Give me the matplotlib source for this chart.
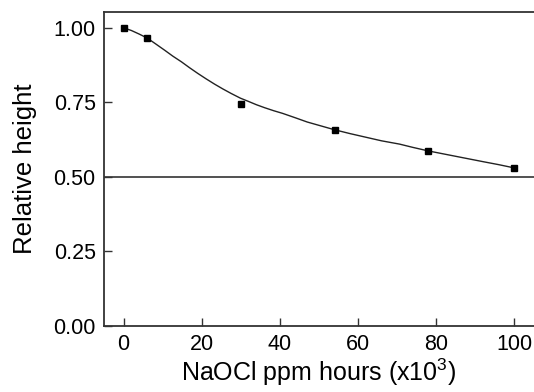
import matplotlib
matplotlib.use("Agg")
import matplotlib.pyplot as plt

plt.rcParams["font.family"] = ["Liberation Sans", "DejaVu Sans"]
plt.rcParams["mathtext.fontset"] = "custom"
plt.rcParams["mathtext.rm"] = "Liberation Sans"

# measured points
dose = [0, 6, 30, 54, 78, 100]
rel_height = [1.0, 0.965, 0.745, 0.657, 0.587, 0.53]

# fitted curve
fit_x = [0, 2, 4, 6, 8, 10.5, 12.6, 14.8, 16.9, 19.0, 21.1, 23.3, 25.4, 27.5, 29.9, 31.8, 34, 36.1, 38.4,
         40.7, 44, 47, 50.5, 54, 58, 62, 66, 70.6, 74, 78, 81.5, 85, 88.5, 92, 96, 100]
fit_y = [1.0, 0.991, 0.979, 0.966, 0.948, 0.925, 0.905, 0.886, 0.866, 0.847, 0.829, 0.811, 0.795, 0.780,
         0.764, 0.754, 0.742, 0.732, 0.722, 0.713, 0.698, 0.684, 0.671, 0.658, 0.645, 0.633, 0.621, 0.610,
         0.599, 0.587, 0.578, 0.569, 0.560, 0.551, 0.541, 0.530]

fig = plt.figure(figsize=(5.34, 3.92), dpi=100)
ax = fig.add_axes([104 / 534, 66 / 392, 1 - 104 / 534, (326 - 12) / 392])

ax.plot(fit_x, fit_y, color="#222222", lw=1.0, zorder=2)
ax.plot(dose, rel_height, ls="none", marker="s", ms=4.8, color="black", zorder=3)
ax.axhline(0.5, color="#333333", lw=1.2, zorder=1)

ax.set_xlim(-5, 105)
ax.set_ylim(0, 1.053)
ax.set_xticks([0, 20, 40, 60, 80, 100])
ax.set_yticks([0, 0.25, 0.5, 0.75, 1.0])
ax.set_yticklabels(["0.00", "0.25", "0.50", "0.75", "1.00"])
ax.tick_params(direction="in", length=6, width=1, labelsize=15.5, pad=6, color="#333333")

ax.spines["right"].set_visible(False)
for s in ["left", "top", "bottom"]:
    ax.spines[s].set_linewidth(1.3)
    ax.spines[s].set_color("#333333")

ax.set_xlabel(r"NaOCl ppm hours (x10$^{3}$)", fontsize=18, labelpad=1)
ax.set_ylabel("Relative height", fontsize=18.5, labelpad=12)

fig.savefig("out.png", dpi=100)
